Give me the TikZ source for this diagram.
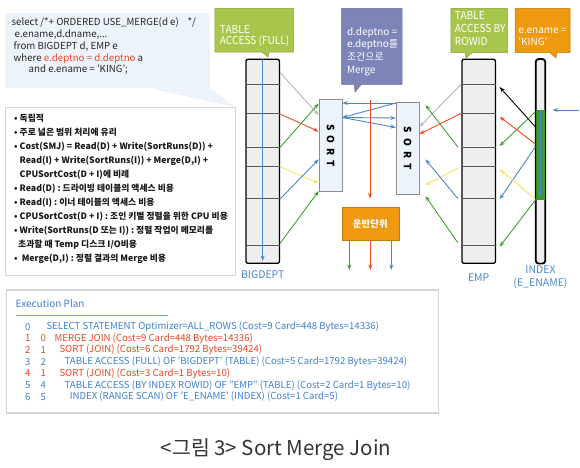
\documentclass[tikz,border=0pt]{standalone}
\usepackage{fontspec}
\setmainfont{Noto Sans CJK KR}
\newfontfamily\capsfont{Noto Sans CJK KR}[FakeStretch=0.92]
\usetikzlibrary{arrows.meta,shapes.callouts,positioning}

\definecolor{accgreen}{HTML}{A8C64B}
\definecolor{accpurple}{HTML}{7D84B8}
\definecolor{accorange}{HTML}{EF990F}
\definecolor{paleblue}{HTML}{EDF3FA}
\definecolor{tblgray}{HTML}{EFEFEF}
\definecolor{lblue}{HTML}{4A87D0}
\definecolor{lred}{HTML}{EE4A22}
\definecolor{lgreen}{HTML}{3DA22E}
\definecolor{lyellow}{HTML}{F6E45A}
\definecolor{lgray}{HTML}{B5B5B5}
\definecolor{idxgreen}{HTML}{3C9B30}
\definecolor{planblue}{HTML}{3F7FD0}
\definecolor{planred}{HTML}{E8441E}
\definecolor{boxline}{HTML}{D5D5D5}

\newcommand\sortword{S\hspace{5pt}O\hspace{5pt}R\hspace{5pt}T}

\begin{document}
\begin{tikzpicture}[x=1pt,y=-1pt,>={Stealth[length=5.5pt,width=4pt]},
    tbl/.style={draw=black,line width=1.3pt,fill=tblgray,rounded corners=2pt,
      minimum width=33.5pt,minimum height=204pt,inner sep=0pt},
    rowline/.style={draw=black!65,line width=0.6pt},
    sortbox/.style={draw=black!45,fill=paleblue,line width=0.6pt,
      minimum width=23pt,minimum height=92pt,inner sep=0pt},
    sorttext/.style={font=\bfseries\fontsize{10}{12}\selectfont,inner sep=0pt},
    callbox/.style={rectangle callout,draw=#1!80!black,fill=#1,line width=0.5pt,
      callout pointer width=7pt,inner sep=0pt},
    calltext/.style={text=white,align=left,inner sep=0pt,anchor=north west},
    lbl/.style={text=lblue,font=\fontsize{10.5}{13}\selectfont,align=center,inner sep=0pt},
    plantext/.style={font=\fontsize{9.6}{12}\selectfont,inner sep=0pt},
    flow/.style={->,line width=0.9pt}]
  \useasboundingbox (0,0) rectangle (580,467);

  % query and cost notes
  \node[fill=paleblue,minimum width=205pt,minimum height=75pt,inner sep=0pt,
    anchor=north west] (sqlbox) at (5,13) {};
  \fill[paleblue] ([xshift=-60pt]sqlbox.south east) -- (sqlbox.south east) -- (235,107) -- cycle;
  \node[draw=boxline,line width=0.8pt,fill=white,minimum width=230pt,minimum height=168pt,
    inner sep=0pt,anchor=north west] (costbox) at (5,107) {};
  \node[anchor=north west,align=left,inner sep=0pt,text=black!85,
    font=\fontsize{9.7}{11.8}\selectfont] (sqltext) at (11.5,17.5)
    {select /*+ ORDERED USE\_MERGE(d e) \ \ \ */\\
     \hspace*{3pt}e.ename,d.dname,...\\
     \hspace*{2pt}from BIGDEPT d, EMP e\\
     \hspace*{2pt}where \textcolor{lred}{e.deptno = d.deptno} a\\
     \hspace*{17pt}and e.ename = 'KING';};
  \node[anchor=north west,align=left,inner sep=0pt,text=black!90,
    font=\bfseries\fontsize{8.8}{14}\selectfont] (costtext) at (14,113.5)
    {• 독립적\\
     • 주로 넓은 범위 처리에 유리\\
     • Cost(SMJ) = Read(D) + Write(SortRuns(D)) +\\
     \hspace*{5.5pt}Read(I) + Write(SortRuns(I)) + Merge(D,I) +\\
     \hspace*{5.5pt}CPUSortCost(D + I)에 비례\\
     • Read(D) : 드라이빙 테이블의 액세스 비용\\
     • Read(I) : 이너 테이블의 액세스 비용\\
     • CPUSortCost(D + I) : 조인 키별 정렬을 위한 CPU 비용\\
     • Write(SortRuns(D 또는 I)) : 정렬 작업이 메모리를\\
     \hspace*{4pt}초과할 때 Temp 디스크 I/O비용\\
     • \ Merge(D,I) : 정렬 결과의 Merge 비용};

  % tables
  \node[tbl] (bigdept) at (262.7,161.3) {};
  \node[tbl] (emp) at (478.7,161.3) {};
  \node[tbl,minimum width=9pt,rounded corners=3pt,line width=1.1pt] (index) at (540.5,161.3) {};
  \foreach \y in {84,113.3,147.7,166.7,198.7,245.7} {
    \draw[rowline] (bigdept.west |- 0,\y) -- (bigdept.east |- 0,\y);
    \draw[rowline] (emp.west |- 0,\y) -- (emp.east |- 0,\y);
  }
  \fill[idxgreen] (index.west |- 0,110) rectangle (index.east |- 0,200);
  \draw[line width=1.1pt,rounded corners=3pt] (index.south west) rectangle (index.north east);
  \draw[->,lblue,line width=0.7pt,shorten >=3pt] (bigdept.north) -- (bigdept.south);
  \draw[->,lblue,line width=0.8pt] (index.center |- 0,111) -- (index.center |- 0,196);
  \node[lbl,below=7pt of bigdept] (bigdeptlbl) {BIGDEPT};
  \node[lbl,below=10pt of emp] (emplbl) {EMP};
  \node[lbl,below=2pt of index] (indexlbl) {INDEX\\(E\_ENAME)};

  % sort boxes and unit
  \node[sortbox] (sort1) at (330.5,145.5) {};
  \node[sortbox] (sort2) at (407.6,148.3) {};
  \node[sorttext,rotate=-90] (sort1txt) at (sort1) {\sortword};
  \node[sorttext,rotate=-90] (sort2txt) at (sort2) {\sortword};
  \node[fill=accorange,draw=accorange!80!black,line width=0.5pt,minimum width=57pt,
    minimum height=33.4pt,text=white,font=\bfseries\fontsize{9.5}{11}\selectfont]
    (unit) at (370.3,224) {운반단위};

  % callouts
  \node[callbox=accgreen,minimum width=78.7pt,minimum height=43.7pt,
    callout absolute pointer={(268,57)}] (fullcall) at (254.3,30.2) {};
  \node[callbox=accpurple,minimum width=60.5pt,minimum height=76pt,
    callout absolute pointer={(355,92)}] (mergecall) at (371.8,46.3) {};
  \node[callbox=accgreen,minimum width=56.5pt,minimum height=44.4pt,
    callout absolute pointer={(466,58)}] (rowidcall) at (479.2,30.5) {};
  \node[callbox=accorange,minimum width=55pt,minimum height=44.4pt,
    callout absolute pointer={(556,58)}] (kingcall) at (542.5,30.5) {};
  \node[calltext,font=\capsfont\fontsize{11}{11.6}\selectfont,
    below right=17pt and 5pt of fullcall.north west] (fulltxt) {TABLE\\ACCESS (FULL)};
  \node[calltext,font=\fontsize{10}{12.6}\selectfont,
    below right=19pt and 5.5pt of mergecall.north west] (mergetxt)
    {d.deptno =\\e.deptno를\\조건으로\\Merge};
  \node[calltext,font=\capsfont\fontsize{11}{13}\selectfont,
    below right=3pt and 4pt of rowidcall.north west] (rowidtxt) {TABLE\\ACCESS BY\\ROWID};
  \node[calltext,font=\fontsize{10}{12}\selectfont,
    below right=19.5pt and 3.5pt of kingcall.north west] (kingtxt) {e.ename =\\'KING'};

  % flows
  \coordinate (empl) at ([xshift=-3.5pt]emp.west);
  \coordinate (empr) at ([xshift=3.5pt]emp.east);
  \coordinate (s2gap) at ([xshift=6pt]sort2.east);
  \coordinate (idxgap) at ([xshift=7pt]index.east);
  \coordinate (idxin) at (579,110);
  \coordinate (mergept) at (370,100);
  \path[flow,lgray] (bigdept.east |- 0,72.7) edge (sort1.west |- 0,115);
  \path[flow,lred] (bigdept.east |- 0,114) edge (sort1.west |- 0,131.5);
  \path[flow,lgreen] (bigdept.east |- 0,147.3) edge (sort1.west |- 0,103.5);
  \path[flow,lyellow] (bigdept.east |- 0,166.7) edge (sort1.west |- 0,183.3);
  \path[flow,lblue] (bigdept.east |- 0,199) edge (sort1.west |- 0,159.3);
  \path[flow,lgreen] (bigdept.east |- 0,243.3) edge (sort1.west |- 0,191);
  \path[flow,lblue] (sort2.west |- 0,103) edge (sort1.east |- 0,103);
  \path[flow,lblue] (sort2.west |- 0,103) edge (sort1.east |- 0,117.5);
  \path[flow,lblue] (sort1.east |- 0,117.5) edge (sort2.west |- 0,118);
  \path[flow,lblue] (sort1.east |- 0,117.5) edge (sort2.west |- 0,127.5);
  \path[flow,lgray] (emp.west |- 0,84) edge (sort2.east |- 0,127);
  \path[flow,lred] (emp.west |- 0,113.3) edge (sort2.east |- 0,134);
  \path[flow,lgreen] (empl |- 0,147) edge (s2gap |- 0,105);
  \path[flow,lyellow] (empl |- 0,168.3) edge (s2gap |- 0,185);
  \path[flow,lblue] (empl |- 0,198.5) edge (s2gap |- 0,159.3);
  \path[flow,lgreen] (empl |- 0,242.7) edge (s2gap |- 0,196);
  \path[flow,black] (index.west |- 0,127) edge (empr |- 0,87);
  \path[flow,lgreen] (index.west |- 0,111.7) edge (empr |- 0,146);
  \path[flow,lred] (index.west |- 0,144) edge (empr |- 0,116.7);
  \path[flow,lblue] (index.west |- 0,146.7) edge (empr |- 0,199.3);
  \path[flow,lyellow] (index.west |- 0,199.3) edge (empr |- 0,169.3);
  \path[flow,lgreen] (index.west |- 0,200) edge (empr |- 0,246.7);
  \path[flow,lblue] (idxin) edge (idxgap |- idxin);
  \path[flow,lred,shorten >=8.5pt] (mergept) edge (mergept |- unit.north);
  \path[flow,lgreen] ([xshift=-21pt]unit.south) edge +(0,29);
  \path[flow,lred] (unit.south) edge +(0,29);
  \path[flow,lblue] ([xshift=21pt]unit.south) edge +(0,29);

  % execution plan
  \node[draw=boxline,line width=1.2pt,minimum width=432pt,minimum height=123pt,
    inner sep=0pt,anchor=north west] (planbox) at (6,289.3) {};
  \node[plantext,anchor=west,text=planblue,font=\fontsize{10}{12}\selectfont] (plantitle)
    at (15.5,303.3) {Execution Plan};
  \draw[planblue!70,line width=0.5pt] (plantitle.south west |- 0,315) -- +(152,0);
  \foreach \id/\pid/\xx/\col/\txt in {
      0/{}/46.3/planblue/{SELECT STATEMENT Optimizer=ALL\_ROWS (Cost=9 Card=448 Bytes=14336)},
      1/0/54.4/planred/{MERGE JOIN (Cost=9 Card=448 Bytes=14336)},
      2/1/59.3/planred/{SORT (JOIN) (Cost=6 Card=1792 Bytes=39424)},
      3/2/64.4/planblue/{TABLE ACCESS (FULL) OF 'BIGDEPT' (TABLE) (Cost=5 Card=1792 Bytes=39424)},
      4/1/59.3/planred/{SORT (JOIN) (Cost=3 Card=1 Bytes=10)},
      5/4/64.4/planblue/{TABLE ACCESS (BY INDEX ROWID) OF "EMP" (TABLE) (Cost=2 Card=1 Bytes=10)},
      6/5/69.6/planblue/{INDEX (RANGE SCAN) OF 'E\_ENAME' (INDEX) (Cost=1 Card=5)}} {
    \pgfmathsetmacro\yy{326.7+11.7*\id}
    \node[plantext,text=\col] (planid\id) at (27.8,\yy) {\id};
    \node[plantext,text=\col] (planpar\id) at (43.3,\yy) {\pid};
    \node[plantext,text=\col,anchor=west] (planrow\id) at (\xx,\yy) {\txt};
  }

  % caption
  \node[text=black!80,font=\fontsize{20.5}{24}\selectfont] (caption) at (276,450)
    {<그림 3> Sort Merge Join};
\end{tikzpicture}
\end{document}
